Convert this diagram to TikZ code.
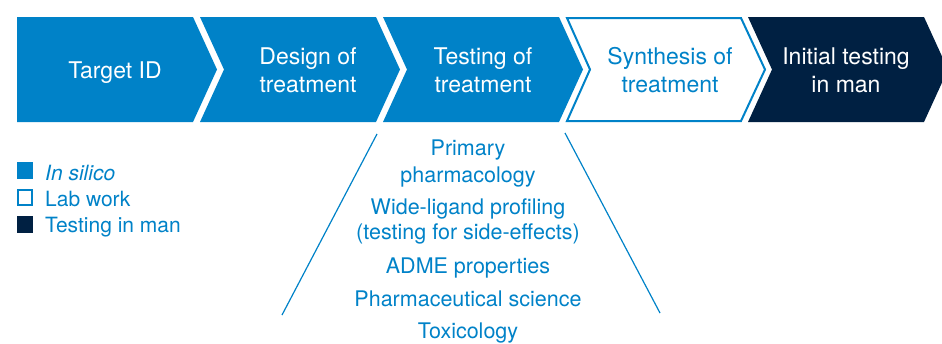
\documentclass[tikz,border=0pt]{standalone}
\usepackage{fontspec}
\setmainfont{TeX Gyre Heros}
\definecolor{ablue}{RGB}{0,130,200}
\definecolor{anavy}{RGB}{0,32,66}
\tikzset{
  chevtext/.style={anchor=base, inner sep=0pt, font=\fontsize{23}{28}\selectfont},
  listtext/.style={anchor=base, inner sep=0pt, text=ablue, font=\fontsize{21.5}{26}\selectfont},
  legtext/.style={anchor=base west, inner sep=0pt, text=ablue, font=\fontsize{21}{26}\selectfont},
  funnel/.style={draw=ablue, line width=1.2pt},
}
\begin{document}
\begin{tikzpicture}[x=1pt,y=-1pt]
\useasboundingbox (0,0) rectangle (942,343);
\begin{scope}
\clip (0,0) rectangle (942,343);
% chevrons
\fill[ablue] (17,17) -- (193,17) -- (217,69.5) -- (193,122) -- (17,122) -- cycle;
\fill[ablue] (200,17) -- (376,17) -- (400,69.5) -- (376,122) -- (200,122) -- (224,69.5) -- cycle;
\fill[ablue] (383,17) -- (559,17) -- (583,69.5) -- (559,122) -- (383,122) -- (407,69.5) -- cycle;
\draw[ablue, line width=2pt] (567,18) -- (741,18) -- (765,69.5) -- (741,121) -- (567,121) -- (590,69.5) -- cycle;
\fill[anavy] (748,17) -- (924,17) -- (948,69.5) -- (924,122) -- (748,122) -- (772,69.5) -- cycle;
\end{scope}
% chevron labels
\node[chevtext, text=white] (c1) at (115,78) {Target ID};
\node[chevtext, text=white] (c2a) at (308,64) {Design of};
\node[chevtext, text=white] (c2b) at (308,92) {treatment};
\node[chevtext, text=white] (c3a) at (483,64) {Testing of};
\node[chevtext, text=white] (c3b) at (483,92) {treatment};
\node[chevtext, text=ablue] (c4a) at (670,64) {Synthesis of};
\node[chevtext, text=ablue] (c4b) at (670,92) {treatment};
\node[chevtext, text=white] (c5a) at (846,64) {Initial testing};
\node[chevtext, text=white] (c5b) at (846,92) {in man};
% legend
\fill[ablue] (17,162) rectangle (33,179);
\draw[ablue, line width=2pt] (18,190) rectangle (32,205);
\fill[anavy] (17,216) rectangle (33,233);
\node[legtext] (l1) at (45,180) {\itshape In silico};
\node[legtext] (l2) at (45,206) {Lab work};
\node[legtext] (l3) at (45,232) {Testing in man};
% funnel lines
\coordinate (fl1) at (377,134);
\coordinate (fl2) at (282,315);
\coordinate (fr1) at (565,133);
\coordinate (fr2) at (660,313);
\draw[funnel] (fl1) -- (fl2);
\draw[funnel] (fr1) -- (fr2);
% list
\node[listtext] (t1a) at (468,155) {Primary};
\node[listtext] (t1b) at (468,182) {pharmacology};
\node[listtext] (t2a) at (468,214) {Wide-ligand profiling};
\node[listtext] (t2b) at (468,239) {(testing for side-effects)};
\node[listtext] (t3) at (468,273) {ADME properties};
\node[listtext] (t4) at (468,306) {Pharmaceutical science};
\node[listtext] (t5) at (468,338) {Toxicology};
\end{tikzpicture}
\end{document}
